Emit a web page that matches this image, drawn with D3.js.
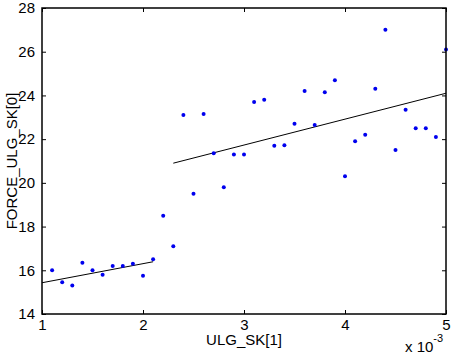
<!DOCTYPE html>
<html lang="en">
<head>
    <meta charset="UTF-8">
    <title>FORCE_ULG_SK</title>
    <style>
        html, body { margin: 0; padding: 0; background: #fff; overflow: hidden; }
        svg { display: block; }
        text { font-family: "Liberation Sans", Arial, sans-serif; }
    </style>
</head>
<body>
    <script src='https://d3js.org/d3.v7.min.js'></script>
    <script>
        // Data (x in units of 1e-3)
        const xVals = [1.1, 1.2, 1.3, 1.4, 1.5, 1.6, 1.7, 1.8, 1.9, 2.0,
                       2.1, 2.2, 2.3, 2.4, 2.5, 2.6, 2.7, 2.8, 2.9, 3.0,
                       3.1, 3.2, 3.3, 3.4, 3.5, 3.6, 3.7, 3.8, 3.9, 4.0,
                       4.1, 4.2, 4.3, 4.4, 4.5, 4.6, 4.7, 4.8, 4.9, 5.0];
        const yVals = [16.0, 15.45, 15.3, 16.35, 16.0, 15.8, 16.2, 16.2, 16.3, 15.75,
                       16.5, 18.5, 17.1, 23.1, 19.5, 23.15, 21.35, 19.8, 21.3, 21.3,
                       23.7, 23.8, 21.7, 21.72, 22.7, 24.2, 22.65, 24.15, 24.7, 20.3,
                       21.9, 22.2, 24.3, 27.0, 21.5, 23.35, 22.5, 22.5, 22.1, 26.1];
        // fitted lines: [x, y] end points
        const fit1 = [[1.0, 15.43], [2.1, 16.39]];
        const fit2 = [[2.3, 20.9], [5.0, 24.1]];
        const xTicks = [1, 2, 3, 4, 5];
        const yTicks = [14, 16, 18, 20, 22, 24, 26, 28];

        const W = 456, H = 352;
        const mLeft = 42, mRight = 446, mTop = 8, mBottom = 314;

        const svg = d3.select("body").append("svg")
            .attr("width", W).attr("height", H);

        const x = d3.scaleLinear().domain([1, 5]).range([mLeft, mRight]);
        const y = d3.scaleLinear().domain([14, 28]).range([mBottom, mTop]);

        // ticks inside the box (MATLAB style), on all four sides
        const tickLen = 4;
        function styleAxis(g) {
            g.select(".domain").remove();
            g.selectAll("line").attr("stroke", "#000");
            g.selectAll("text").attr("font-size", 15).attr("fill", "#000")
                .attr("font-family", "Liberation Sans, Arial, sans-serif");
        }
        svg.append("g")
            .attr("transform", "translate(0," + mBottom + ")")
            .call(d3.axisBottom(x).tickValues(xTicks).tickSizeInner(-tickLen)
                .tickPadding(5).tickFormat(d3.format("d")))
            .call(styleAxis);
        svg.append("g")
            .attr("transform", "translate(0," + mTop + ")")
            .call(d3.axisTop(x).tickValues(xTicks).tickSizeInner(-tickLen).tickFormat(""))
            .call(styleAxis);
        svg.append("g")
            .attr("transform", "translate(" + mLeft + ",0)")
            .call(d3.axisLeft(y).tickValues(yTicks).tickSizeInner(-tickLen).tickPadding(7))
            .call(styleAxis);
        svg.append("g")
            .attr("transform", "translate(" + mRight + ",0)")
            .call(d3.axisRight(y).tickValues(yTicks).tickSizeInner(-tickLen).tickFormat(""))
            .call(styleAxis);

        // fit lines
        const line = d3.line().x(d => x(d[0])).y(d => y(d[1]));
        [fit1, fit2].forEach(f => {
            svg.append("path").datum(f)
                .attr("fill", "none").attr("stroke", "#000").attr("stroke-width", 1)
                .attr("d", line);
        });

        // points
        svg.selectAll("circle.pt")
            .data(xVals.map((v, i) => [v, yVals[i]]))
            .enter().append("circle")
            .attr("class", "pt")
            .attr("cx", d => x(d[0]))
            .attr("cy", d => y(d[1]))
            .attr("r", 2)
            .attr("fill", "#0000ee");

        // box around the axes
        svg.append("rect")
            .attr("x", x(1)).attr("y", y(28))
            .attr("width", x(5) - x(1)).attr("height", y(14) - y(28))
            .attr("fill", "none").attr("stroke", "#000").attr("stroke-width", 1.5);

        // labels
        svg.append("text")
            .attr("x", (mLeft + mRight) / 2).attr("y", 345)
            .attr("text-anchor", "middle").attr("font-size", 15)
            .text("ULG_SK[1]");
        svg.append("text")
            .attr("transform", "translate(17," + ((mTop + mBottom) / 2) + ") rotate(-90)")
            .attr("text-anchor", "middle").attr("font-size", 15)
            .text("FORCE_ULG_SK[0]");
        const ex = svg.append("text")
            .attr("x", 405).attr("y", 352).attr("font-size", 15);
        ex.append("tspan").text("x 10");
        ex.append("tspan").attr("dy", -10).attr("font-size", 11).text("-3");
    </script>
</body>
</html>
